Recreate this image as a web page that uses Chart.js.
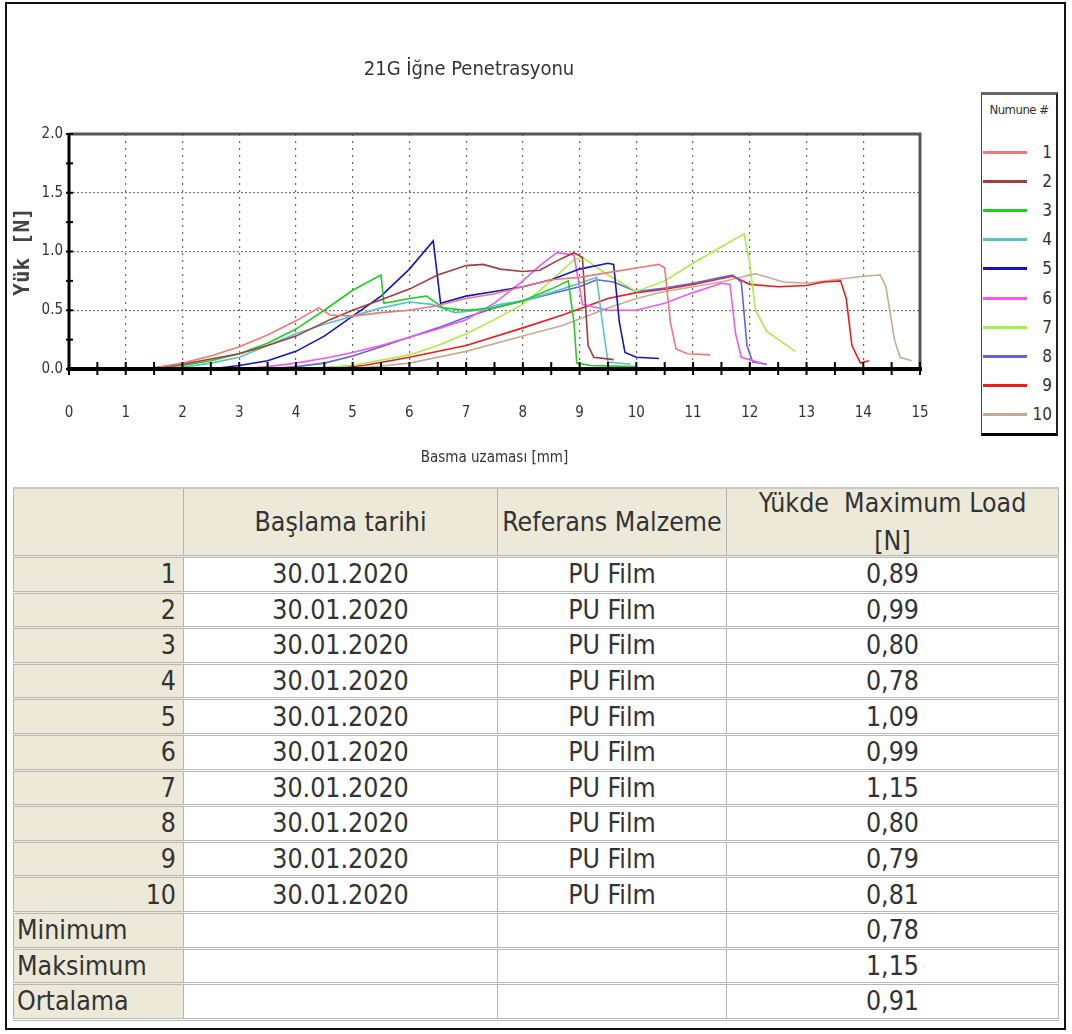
<!DOCTYPE html>
<html>
<head>
<meta charset="utf-8">
<script src="https://cdn.jsdelivr.net/npm/chart.js@4.4.1/dist/chart.umd.min.js"></script>
<style>
  body { margin: 0; background: #fff; width: 1072px; height: 1034px; position: relative; overflow: hidden; }
  #frame { position: absolute; left: 5px; top: 2px; width: 1061px; height: 1028px; border: 2px solid #111; box-sizing: border-box; }
  #chart { position: absolute; left: 0; top: 0; }
  #legend { position: absolute; left: 981px; top: 92px; width: 77px; height: 344px; box-sizing: border-box;
    border: 1px solid #444; border-top: 3px solid #666; border-right: 2px solid #222; border-bottom: 3px solid #000; background: #fff;
    font-family: 'DejaVu Sans Condensed', sans-serif; font-stretch: condensed; color: #333; }
  #legend .ttl { position: absolute; left: 0; top: 7px; width: 100%; text-align: center; font-size: 13px; letter-spacing: -0.5px; }
  #legend .item { position: absolute; left: 0; width: 100%; height: 20px; }
  #legend .item span.ln { position: absolute; left: 1px; top: 9px; width: 44px; height: 3px; }
  #legend .item span.lb { position: absolute; right: 4px; top: 0; font-size: 17px; line-height: 20px; }
  table { position: absolute; left: 13px; top: 487px; width: 1045px; border-collapse: collapse; table-layout: fixed;
    font-family: 'DejaVu Sans Condensed', 'DejaVu Sans', sans-serif; font-stretch: condensed; font-size: 26.5px; color: #333; }
  td, th { border-left: 1px solid #b4b4b4; border-right: 1px solid #b4b4b4; border-bottom: 3px double #b8b8b8; padding: 0 4px; height: 32.6px; line-height: 28px; font-weight: normal; }
  th { background: #ece9d8; height: 66px; text-align: center; border-top: 2px solid #c8c8c8; line-height: 28px; }
  th .two { line-height: 38px; margin: -5px 0; }
  td { text-align: center; background: #fff; }
  td.n { background: #ece9d8; text-align: right; padding-right: 7px; }
  td.s { background: #ece9d8; text-align: left; padding-left: 3px; }
</style>
</head>
<body>
<div id="frame"></div>
<canvas id="chart" width="940" height="480"></canvas>
<div id="legend"><div class="ttl">Numune #</div></div>
<table id="tbl">
  <colgroup><col style="width:170px"><col style="width:314px"><col style="width:229px"><col style="width:332px"></colgroup>
</table>
<script>
// load [N] vs displacement [mm]
const numune1 = [[0.3,0],[1,0],[1.5,0.01],[2,0.05],[2.5,0.11],[3,0.19],[3.5,0.29],[4,0.41],[4.4,0.52],[4.6,0.46],[5,0.45],[5.5,0.48],[6,0.5],[6.5,0.54],[7,0.6],[7.5,0.64],[8,0.7],[8.5,0.76],[9,0.78],[9.5,0.82],[10,0.86],[10.4,0.89],[10.5,0.86],[10.6,0.4],[10.7,0.17],[10.9,0.13],[11.3,0.12]];
const numune2 = [[1,0],[1.5,0.01],[2,0.04],[3,0.13],[3.5,0.2],[4,0.28],[4.6,0.42],[5,0.5],[5.5,0.59],[6,0.68],[6.5,0.8],[7,0.88],[7.3,0.89],[7.6,0.85],[8,0.83],[8.3,0.84],[8.6,0.92],[8.9,0.99],[9.05,0.95],[9.15,0.2],[9.25,0.1],[9.6,0.08]];
const numune3 = [[1.3,0],[2,0.03],[2.5,0.07],[3,0.13],[3.5,0.22],[4,0.34],[4.5,0.5],[5,0.67],[5.5,0.8],[5.55,0.56],[6,0.6],[6.3,0.62],[6.6,0.52],[7,0.5],[7.5,0.52],[8,0.58],[8.5,0.68],[8.8,0.75],[8.9,0.4],[8.95,0.05],[9.2,0.03],[10,0.02]];
const numune4 = [[1.8,0],[2.5,0.05],[3,0.1],[3.5,0.2],[4,0.3],[4.5,0.38],[5,0.45],[5.5,0.52],[6,0.57],[6.4,0.55],[6.8,0.48],[7.2,0.5],[7.6,0.55],[8,0.58],[8.5,0.65],[9,0.73],[9.3,0.78],[9.4,0.4],[9.5,0.06],[9.9,0.04]];
const numune5 = [[2.5,0],[3,0.03],[3.5,0.07],[4,0.15],[4.5,0.28],[5,0.45],[5.5,0.62],[6,0.85],[6.42,1.09],[6.55,0.56],[7,0.62],[7.5,0.66],[8,0.7],[8.5,0.76],[9,0.85],[9.5,0.9],[9.6,0.89],[9.7,0.4],[9.8,0.14],[10,0.1],[10.4,0.09]];
const numune6 = [[3,0],[3.5,0.02],[4,0.05],[4.6,0.1],[5,0.14],[5.5,0.2],[6,0.27],[6.5,0.34],[7,0.42],[7.5,0.56],[8,0.75],[8.3,0.88],[8.6,0.99],[8.9,0.97],[9.05,0.55],[9.5,0.5],[10,0.5],[10.5,0.56],[11,0.65],[11.5,0.73],[11.65,0.72],[11.75,0.3],[11.85,0.1],[12.2,0.05]];
const numune7 = [[4,0],[5,0.03],[6,0.12],[6.5,0.2],[7,0.3],[7.5,0.42],[8,0.55],[8.5,0.75],[8.9,0.93],[9.05,0.95],[9.5,0.8],[10,0.66],[10.5,0.75],[11,0.9],[11.5,1.04],[11.9,1.15],[12,0.9],[12.1,0.5],[12.3,0.32],[12.8,0.15]];
const numune8 = [[3.5,0],[4,0.02],[4.5,0.05],[5,0.11],[5.5,0.19],[6,0.27],[6.5,0.35],[7,0.44],[7.5,0.52],[8,0.58],[8.5,0.64],[9,0.7],[9.3,0.76],[9.6,0.74],[10,0.66],[10.5,0.69],[11,0.73],[11.5,0.78],[11.7,0.8],[11.85,0.74],[11.95,0.2],[12.05,0.06],[12.3,0.04]];
const numune9 = [[4.5,0],[5.2,0.03],[6,0.1],[7,0.2],[8,0.35],[8.7,0.46],[9.5,0.6],[10,0.65],[10.5,0.68],[11,0.72],[11.5,0.77],[11.7,0.79],[12,0.72],[12.5,0.7],[13,0.71],[13.3,0.74],[13.6,0.75],[13.7,0.6],[13.8,0.2],[13.95,0.05],[14.1,0.07]];
const numune10 = [[5,0],[6,0.05],[7,0.15],[8,0.28],[8.7,0.37],[9.5,0.52],[10,0.6],[10.5,0.66],[11,0.7],[11.5,0.74],[12,0.8],[12.1,0.81],[12.6,0.74],[13,0.73],[13.5,0.76],[14,0.79],[14.3,0.8],[14.4,0.7],[14.55,0.25],[14.65,0.1],[14.85,0.07]];

const curves = [numune1, numune2, numune3, numune4, numune5, numune6, numune7, numune8, numune9, numune10];
const colors = ['#f07878', '#a33c3c', '#22cc22', '#55c4c8', '#1414c8', '#ee5cee', '#a8ee48', '#6464d4', '#ee1c1c', '#c8aa90'];
const sampleNames = ['1', '2', '3', '4', '5', '6', '7', '8', '9', '10'];

// table
const startDates = ['30.01.2020','30.01.2020','30.01.2020','30.01.2020','30.01.2020','30.01.2020','30.01.2020','30.01.2020','30.01.2020','30.01.2020'];
const material = ['PU Film','PU Film','PU Film','PU Film','PU Film','PU Film','PU Film','PU Film','PU Film','PU Film'];
const maxLoad = [0.89, 0.99, 0.80, 0.78, 1.09, 0.99, 1.15, 0.80, 0.79, 0.81];

const narrow = "'DejaVu Sans Condensed', sans-serif";

const axisFrame = {
    id: 'axisFrame',
    afterDatasetsDraw(chart) {
        const {ctx, chartArea: a, scales: {x, y}} = chart;
        ctx.save();
        ctx.strokeStyle = '#555';
        ctx.lineWidth = 3;
        ctx.beginPath();
        ctx.moveTo(a.left, a.top);
        ctx.lineTo(a.right, a.top);
        ctx.lineTo(a.right, a.bottom);
        ctx.stroke();
        ctx.strokeStyle = '#000';
        ctx.beginPath();
        ctx.moveTo(a.left, a.top);
        ctx.lineTo(a.left, a.bottom);
        ctx.stroke();
        ctx.lineWidth = 4;
        ctx.beginPath();
        ctx.moveTo(a.left - 2, a.bottom);
        ctx.lineTo(a.right + 2, a.bottom);
        ctx.stroke();
        ctx.lineWidth = 2;
        for (let v = 0; v <= 15; v += 0.5) {
            const px = x.getPixelForValue(v);
            ctx.beginPath();
            ctx.moveTo(px, a.bottom - 7);
            ctx.lineTo(px, a.bottom + 6);
            ctx.stroke();
        }
        for (let v = 0; v <= 2; v += 0.25) {
            const py = y.getPixelForValue(v);
            ctx.beginPath();
            ctx.moveTo(a.left - 3, py);
            ctx.lineTo(a.left + 4, py);
            ctx.stroke();
        }
        ctx.restore();
    }
};

const ctx = document.getElementById('chart').getContext('2d');
const chart = new Chart(ctx, {
    type: 'line',
    data: {
        datasets: curves.map((c, i) => ({
            label: sampleNames[i],
            data: c.map(p => ({x: p[0], y: p[1]})),
            borderColor: colors[i],
            backgroundColor: colors[i],
            borderWidth: 1.6,
            pointRadius: 0,
            tension: 0,
            fill: false
        }))
    },
    options: {
        responsive: false,
        animation: false,
        layout: { padding: { left: 18, right: 20, top: 0, bottom: 0 } },
        plugins: {
            legend: { display: false },
            tooltip: { enabled: false },
            title: {
                display: true,
                text: '21G İğne Penetrasyonu',
                color: '#333',
                font: { family: narrow, size: 20, weight: 'normal' },
                padding: { top: 58, bottom: 52 }
            }
        },
        scales: {
            x: {
                type: 'linear',
                min: 0, max: 15,
                afterFit(scale) { scale.height = 111; scale.paddingRight = 10; scale.paddingLeft = 5; },
                ticks: { stepSize: 1, padding: 35, color: '#333', font: { family: narrow, size: 15 } },
                grid: {
                    drawTicks: false,
                    color: c => (c.tick.value > 0 && c.tick.value < 15) ? '#666' : 'transparent',
                    lineWidth: 1.2
                },
                border: { display: false, dash: [2, 5] },
                title: {
                    display: true,
                    text: 'Basma uzaması [mm]',
                    color: '#333',
                    font: { family: narrow, size: 15 },
                    padding: { top: 0, bottom: 13 }
                }
            },
            y: {
                min: 0, max: 2,
                afterFit(scale) { scale.width = 51; },
                ticks: { stepSize: 0.5, padding: 6, color: '#333', font: { family: narrow, size: 15 },
                    callback: v => v.toFixed(1) },
                grid: {
                    drawTicks: false,
                    color: c => (c.tick.value > 0 && c.tick.value < 2) ? '#777' : 'transparent',
                    lineWidth: 1.2
                },
                border: { display: false, dash: [2, 2] },
                title: {
                    display: true,
                    text: 'Yük [N]',
                    color: '#444',
                    font: { family: "'DejaVu Sans Mono', monospace", size: 21, weight: 'bold' },
                    padding: { top: -7, bottom: 0 }
                }
            }
        }
    },
    plugins: [axisFrame]
});

// legend built from the datasets
const legend = document.getElementById('legend');
chart.data.datasets.forEach((ds, i) => {
    const item = document.createElement('div');
    item.className = 'item';
    item.style.top = (47 + i * 29.1) + 'px';
    item.innerHTML = '<span class="ln" style="background:' + ds.borderColor + '"></span><span class="lb">' + ds.label + '</span>';
    legend.appendChild(item);
});

// results table
const fmt = v => v.toFixed(2).replace('.', ',');
const tbl = document.getElementById('tbl');
let html = '<tr><th></th><th>Başlama tarihi</th><th>Referans Malzeme</th><th><div class="two">Yükde&nbsp; Maximum Load<br>[N]</div></th></tr>';
maxLoad.forEach((v, i) => {
    html += '<tr><td class="n">' + sampleNames[i] + '</td><td>' + startDates[i] + '</td><td>' + material[i] + '</td><td>' + fmt(v) + '</td></tr>';
});
const mean = maxLoad.reduce((s, v) => s + v, 0) / maxLoad.length;
[['Minimum', Math.min(...maxLoad)], ['Maksimum', Math.max(...maxLoad)], ['Ortalama', mean]].forEach(r => {
    html += '<tr><td class="s">' + r[0] + '</td><td></td><td></td><td>' + fmt(r[1]) + '</td></tr>';
});
tbl.insertAdjacentHTML('beforeend', html);
</script>
</body>
</html>
